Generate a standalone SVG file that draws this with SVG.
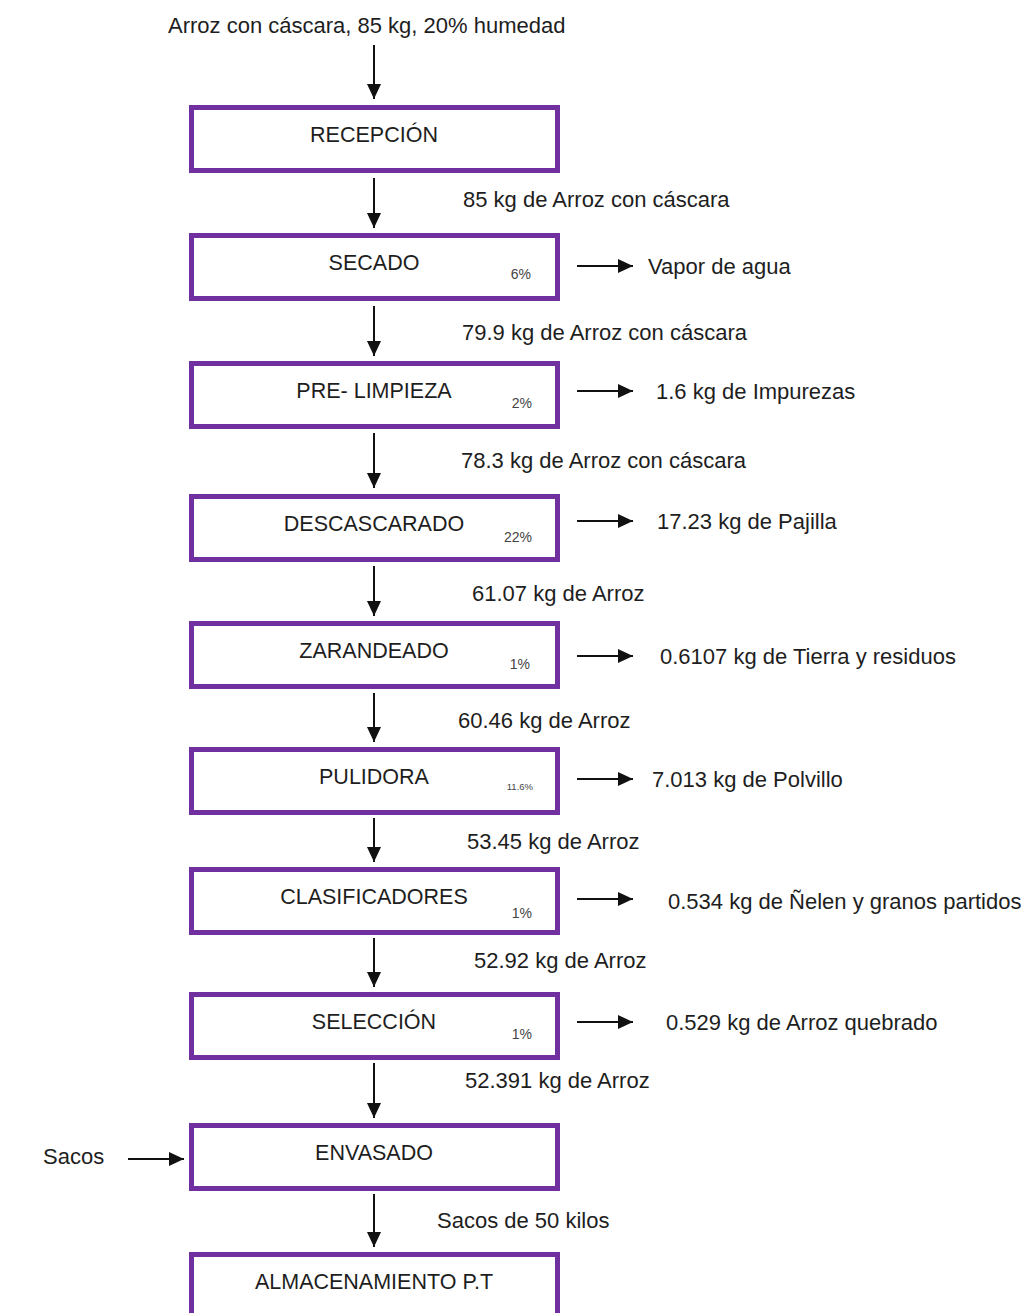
<svg xmlns="http://www.w3.org/2000/svg" width="1025" height="1313" viewBox="0 0 1025 1313">
  <style>
    .box { fill: #ffffff; stroke: #7030a0; stroke-width: 5; }
    .step { font-family: "Liberation Sans", Arial, sans-serif; font-size: 21.5px; fill: #1e1e1e; text-anchor: middle; }
    .lbl { font-family: "Liberation Sans", Arial, sans-serif; font-size: 22px; fill: #1e1e1e; }
    .pct { font-family: "Liberation Sans", Arial, sans-serif; font-size: 14px; fill: #444444; text-anchor: end; }
    .pct-sm { font-family: "Liberation Sans", Arial, sans-serif; font-size: 9.5px; fill: #444444; text-anchor: end; }
    .flow { stroke: #111111; stroke-width: 2; fill: none; marker-end: url(#head); }
  </style>
  <defs>
    <marker id="head" markerUnits="userSpaceOnUse" markerWidth="16" markerHeight="14" refX="15" refY="7" orient="auto">
      <path d="M0,0 L15,7 L0,14 Z" fill="#111111"/>
    </marker>
  </defs>
  <rect width="1025" height="1313" fill="#ffffff"/>

  <!-- incoming raw material -->
  <text class="lbl" x="168" y="33">Arroz con cáscara, 85 kg, 20% humedad</text>

  <!-- process steps -->
  <g id="recepcion">
    <rect class="box" x="191.5" y="107.5" width="366" height="63"/>
    <text class="step" x="374" y="142">RECEPCIÓN</text>
  </g>
  <g id="secado">
    <rect class="box" x="191.5" y="235.5" width="366" height="63"/>
    <text class="step" x="374" y="270">SECADO</text>
    <text class="pct" x="531" y="279">6%</text>
  </g>
  <g id="pre-limpieza">
    <rect class="box" x="191.5" y="363.5" width="366" height="63"/>
    <text class="step" x="374" y="398">PRE- LIMPIEZA</text>
    <text class="pct" x="532" y="408">2%</text>
  </g>
  <g id="descascarado">
    <rect class="box" x="191.5" y="496.5" width="366" height="63"/>
    <text class="step" x="374" y="531">DESCASCARADO</text>
    <text class="pct" x="532" y="542">22%</text>
  </g>
  <g id="zarandeado">
    <rect class="box" x="191.5" y="623.5" width="366" height="63"/>
    <text class="step" x="374" y="658">ZARANDEADO</text>
    <text class="pct" x="530" y="669">1%</text>
  </g>
  <g id="pulidora">
    <rect class="box" x="191.5" y="749.5" width="366" height="63"/>
    <text class="step" x="374" y="784">PULIDORA</text>
    <text class="pct-sm" x="533" y="790">11.6%</text>
  </g>
  <g id="clasificadores">
    <rect class="box" x="191.5" y="869.5" width="366" height="63"/>
    <text class="step" x="374" y="904">CLASIFICADORES</text>
    <text class="pct" x="532" y="918">1%</text>
  </g>
  <g id="seleccion">
    <rect class="box" x="191.5" y="994.5" width="366" height="63"/>
    <text class="step" x="374" y="1029">SELECCIÓN</text>
    <text class="pct" x="532" y="1039">1%</text>
  </g>
  <g id="envasado">
    <rect class="box" x="191.5" y="1125.5" width="366" height="63"/>
    <text class="step" x="374" y="1160">ENVASADO</text>
  </g>
  <g id="almacenamiento">
    <rect class="box" x="191.5" y="1254.5" width="366" height="63"/>
    <text class="step" x="374" y="1289">ALMACENAMIENTO P.T</text>
  </g>

  <!-- connectors -->
  <g id="connectors">
    <line class="flow" x1="374" y1="45" x2="374" y2="99"/>
    <line class="flow" x1="374" y1="178" x2="374" y2="228"/>
    <line class="flow" x1="374" y1="306" x2="374" y2="356"/>
    <line class="flow" x1="374" y1="433" x2="374" y2="488"/>
    <line class="flow" x1="374" y1="566" x2="374" y2="616"/>
    <line class="flow" x1="374" y1="693" x2="374" y2="742"/>
    <line class="flow" x1="374" y1="818" x2="374" y2="862"/>
    <line class="flow" x1="374" y1="938" x2="374" y2="987"/>
    <line class="flow" x1="374" y1="1063" x2="374" y2="1118"/>
    <line class="flow" x1="374" y1="1194" x2="374" y2="1247"/>

    <line class="flow" x1="577" y1="266" x2="633" y2="266"/>
    <line class="flow" x1="577" y1="391" x2="633" y2="391"/>
    <line class="flow" x1="577" y1="521" x2="633" y2="521"/>
    <line class="flow" x1="577" y1="656" x2="633" y2="656"/>
    <line class="flow" x1="577" y1="779" x2="633" y2="779"/>
    <line class="flow" x1="577" y1="899" x2="633" y2="899"/>
    <line class="flow" x1="577" y1="1022" x2="633" y2="1022"/>

    <line class="flow" x1="128" y1="1159" x2="184" y2="1159"/>
  </g>

  <!-- stream labels between steps -->
  <text class="lbl" x="463" y="207">85 kg de Arroz con cáscara</text>
  <text class="lbl" x="462" y="340">79.9 kg de Arroz con cáscara</text>
  <text class="lbl" x="461" y="468">78.3 kg de Arroz con cáscara</text>
  <text class="lbl" x="472" y="601">61.07 kg de Arroz</text>
  <text class="lbl" x="458" y="728">60.46 kg de Arroz</text>
  <text class="lbl" x="467" y="849">53.45 kg de Arroz</text>
  <text class="lbl" x="474" y="968">52.92 kg de Arroz</text>
  <text class="lbl" x="465" y="1088">52.391 kg de Arroz</text>
  <text class="lbl" x="437" y="1228">Sacos de 50 kilos</text>

  <!-- outputs -->
  <text class="lbl" x="648" y="274">Vapor de agua</text>
  <text class="lbl" x="656" y="399">1.6 kg de Impurezas</text>
  <text class="lbl" x="657" y="529">17.23 kg de Pajilla</text>
  <text class="lbl" x="660" y="664">0.6107 kg de Tierra y residuos</text>
  <text class="lbl" x="652" y="787">7.013 kg de Polvillo</text>
  <text class="lbl" x="668" y="909">0.534 kg de Ñelen y granos partidos</text>
  <text class="lbl" x="666" y="1030">0.529 kg de Arroz quebrado</text>

  <!-- packaging input -->
  <text class="lbl" x="43" y="1164">Sacos</text>
</svg>
